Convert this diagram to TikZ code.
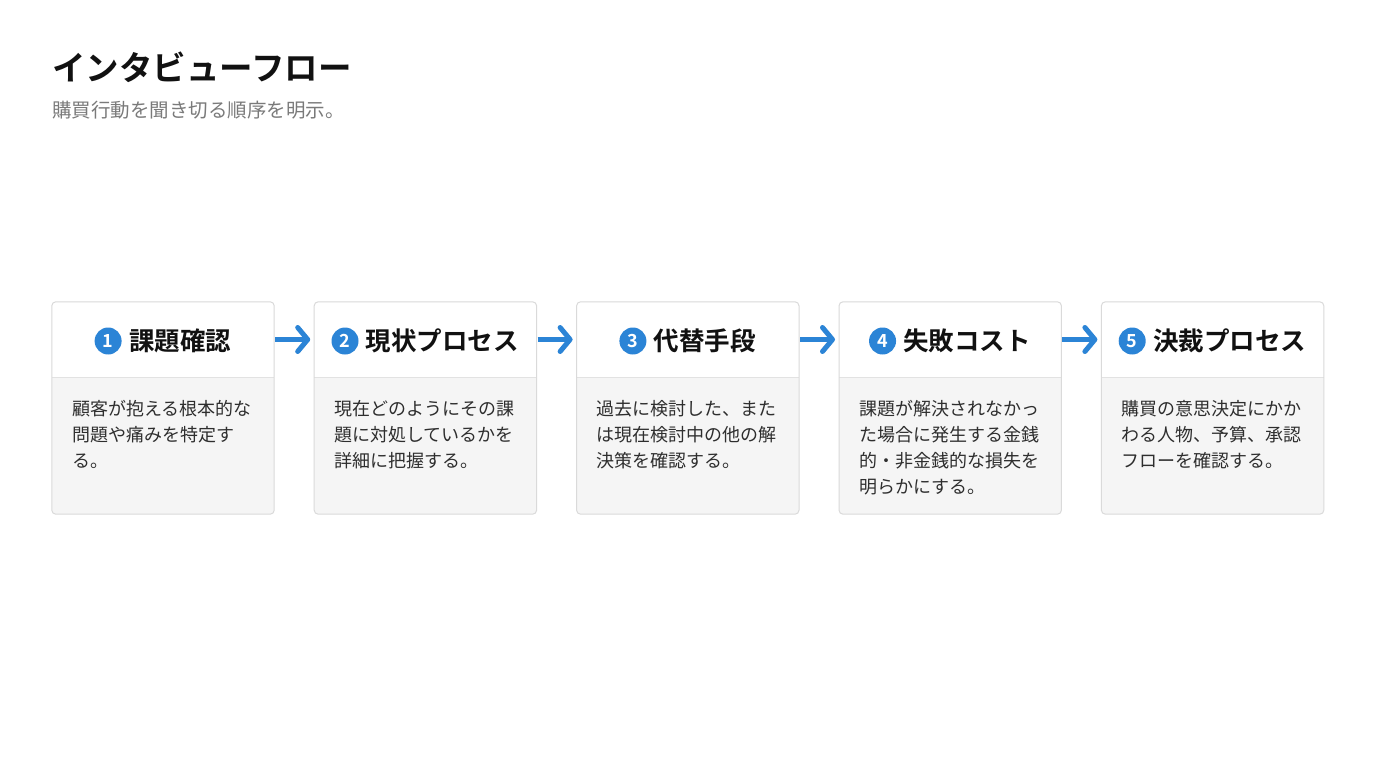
\documentclass[tikz,border=0pt]{standalone}
\usepackage{fontspec}
\setmainfont{Noto Sans CJK JP}[BoldFont={Noto Sans CJK JP Bold}]
\usetikzlibrary{arrows.meta,calc}
\definecolor{titlec}{HTML}{111111}
\definecolor{subc}{HTML}{7A7A7A}
\definecolor{bluec}{HTML}{2B84D6}
\definecolor{bodyc}{HTML}{2E2E2E}
\definecolor{borderc}{HTML}{DADADA}
\definecolor{fillc}{HTML}{F5F5F5}
\definecolor{divc}{HTML}{E2E2E2}
\tikzset{
  boxfill/.style={rectangle, minimum width=222, minimum height=212, inner sep=0, fill=fillc, rounded corners=4},
  headbox/.style={rectangle, minimum width=222, minimum height=75, inner sep=0, anchor=north},
  numcirc/.style={circle, fill=bluec, minimum size=27, inner sep=0, text=white, font=\fontsize{18}{18}\selectfont\bfseries},
  headtext/.style={inner sep=0, text=titlec, font=\fontsize{25.5}{30}\selectfont\bfseries},
  bodytext/.style={anchor=north west, inner sep=0, align=left, text=bodyc, font=\fontsize{18}{26}\selectfont},
  arr/.style={draw=bluec, line width=5, -{Straight Barb[length=10,width=24,line cap=round,line join=round]}, shorten <=1, shorten >=4}
}
\begin{document}
\begin{tikzpicture}[x=1pt,y=1pt]
\useasboundingbox (0,0) rectangle (1376,-768);
\fill[white] (0,0) rectangle (1376,-768);
\node[anchor=west, inner sep=0, text=titlec, font=\fontsize{33.5}{40}\selectfont\bfseries] (title) at (52,-67) {インタビューフロー};
\node[anchor=west, inner sep=0, text=subc, font=\fontsize{19.5}{24}\selectfont] (sub) at (52,-110) {購買行動を聞き切る順序を明示。};
\foreach \i/\ttl/\bdy in {
  1/{課題確認}/{顧客が抱える根本的な\\問題や痛みを特定す\\る。},
  2/{現状プロセス}/{現在どのようにその課\\題に対処しているかを\\詳細に把握する。},
  3/{代替手段}/{過去に検討した、また\\は現在検討中の他の解\\決策を確認する。},
  4/{失敗コスト}/{課題が解決されなかっ\\た場合に発生する金銭\\的・非金銭的な損失を\\明らかにする。},
  5/{決裁プロセス}/{購買の意思決定にかか\\わる人物、予算、承認\\フローを確認する。}}{
  \node[boxfill] (b\i) at ({52+111+262.4*(\i-1)},-408) {};
  \node[headbox] (h\i) at (b\i.north) {};
  \fill[white, rounded corners=4] (h\i.south west) -- (h\i.north west) -- (h\i.north east) -- ([yshift=-10]h\i.north east) [sharp corners] -- (h\i.south east) -- cycle;
  \draw[divc, line width=1] (h\i.south west) -- (h\i.south east);
  \draw[borderc, line width=1, rounded corners=4] (b\i.north west) rectangle (b\i.south east);
  \node[headtext] (t\i) at ([xshift=17,yshift=-1.5]h\i.center) {\ttl};
  \node[numcirc, anchor=east] (c\i) at ([xshift=-7]t\i.west) {\i};
  \node[bodytext] (d\i) at ([xshift=20,yshift=-98]b\i.north west) {\bdy};
}
\foreach \i/\j in {1/2,2/3,3/4,4/5}{
  \draw[arr] (h\i.east) -- (h\j.west);
}
\end{tikzpicture}
\end{document}
